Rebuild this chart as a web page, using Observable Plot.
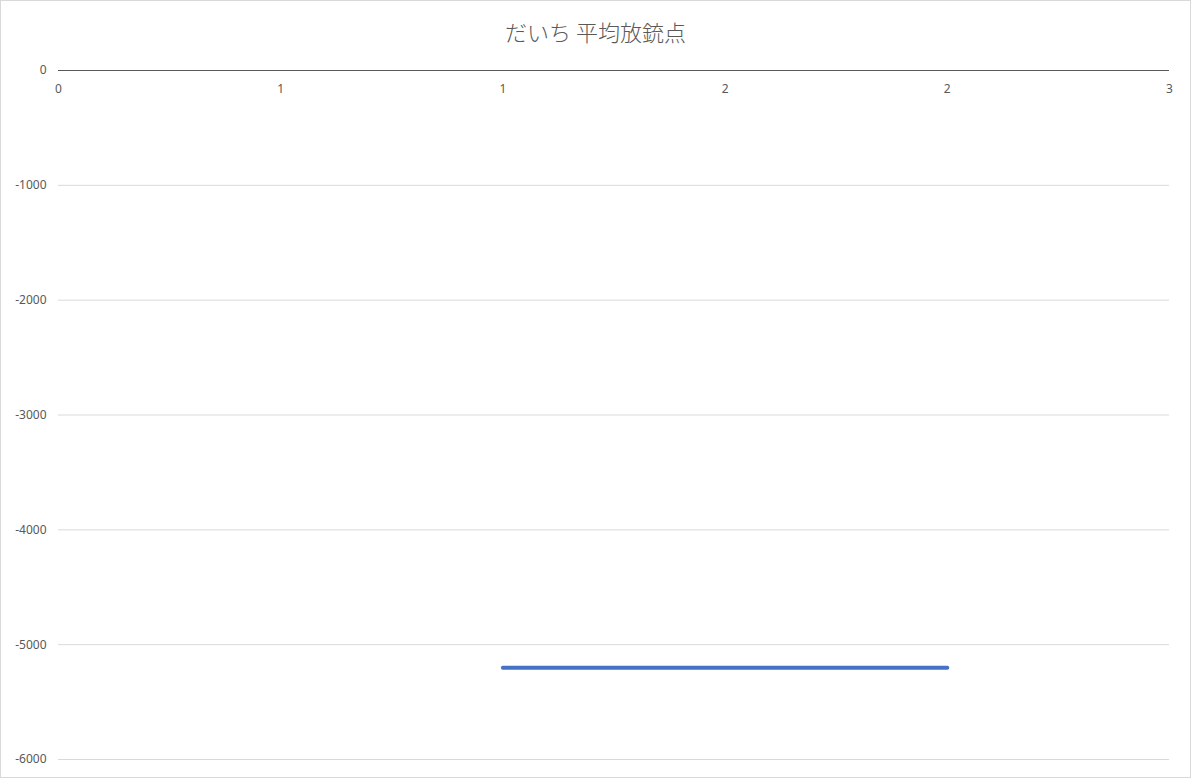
<!DOCTYPE html>
<html>
<head>
<meta charset="utf-8">
<script src="https://cdn.jsdelivr.net/npm/d3@7"></script>
<script src="https://cdn.jsdelivr.net/npm/@observablehq/plot@0.6"></script>
<style>
  html, body { margin: 0; padding: 0; background: #fff; }
  #chart { width: 1191px; height: 778px; box-sizing: border-box; border: 1px solid #d9d9d9; background: #fff; overflow: hidden; }
  #title { height: 55px; line-height: 60px; text-align: center; font-family: "Noto Sans CJK JP", "Noto Sans", sans-serif; font-size: 22px; font-weight: 300; color: #595959; }
  svg { display: block; }
</style>
</head>
<body>
<div id="chart">
  <div id="title">だいち 平均放銃点</div>
</div>
<script>
const titleText = "だいち 平均放銃点";
const xValues = [1.2, 2.4];
const yValues = [-5200, -5200];
const xTicks = [0, 0.6, 1.2, 1.8, 2.4, 3];
const yTicks = [0, -1000, -2000, -3000, -4000, -5000, -6000];

const series = xValues.map((x, i) => ({x, y: yValues[i]}));
const fmtX = d3.format(".0f");

const plot = Plot.plot({
  width: 1189,
  height: 721,
  marginTop: 14,
  marginBottom: 18,
  marginLeft: 57,
  marginRight: 21,
  style: { fontFamily: "'Noto Sans', 'Open Sans', sans-serif", fontSize: "12px", color: "#595959", background: "#fff" },
  x: { domain: [0, 3], axis: null, label: null },
  y: { domain: [-6000, 0], ticks: yTicks, label: null },
  marks: [
    Plot.gridY(yTicks.filter(d => d !== 0), { stroke: "#d9d9d9", strokeOpacity: 1 }),
    Plot.axisY(yTicks, { tickSize: 0, tickPadding: 12, tickFormat: d => String(d), fill: "#595959", label: null }),
    Plot.ruleY([0], { stroke: "#595959", strokeWidth: 1 }),
    Plot.text(xTicks, { x: d => d, y: 0, text: d => fmtX(d), dy: 19, fill: "#595959", fontSize: 12 }),
    Plot.line(series, { x: "x", y: "y", stroke: "#4472c4", strokeWidth: 4, strokeLinecap: "round" })
  ]
});
document.getElementById("chart").appendChild(plot);
</script>
</body>
</html>
